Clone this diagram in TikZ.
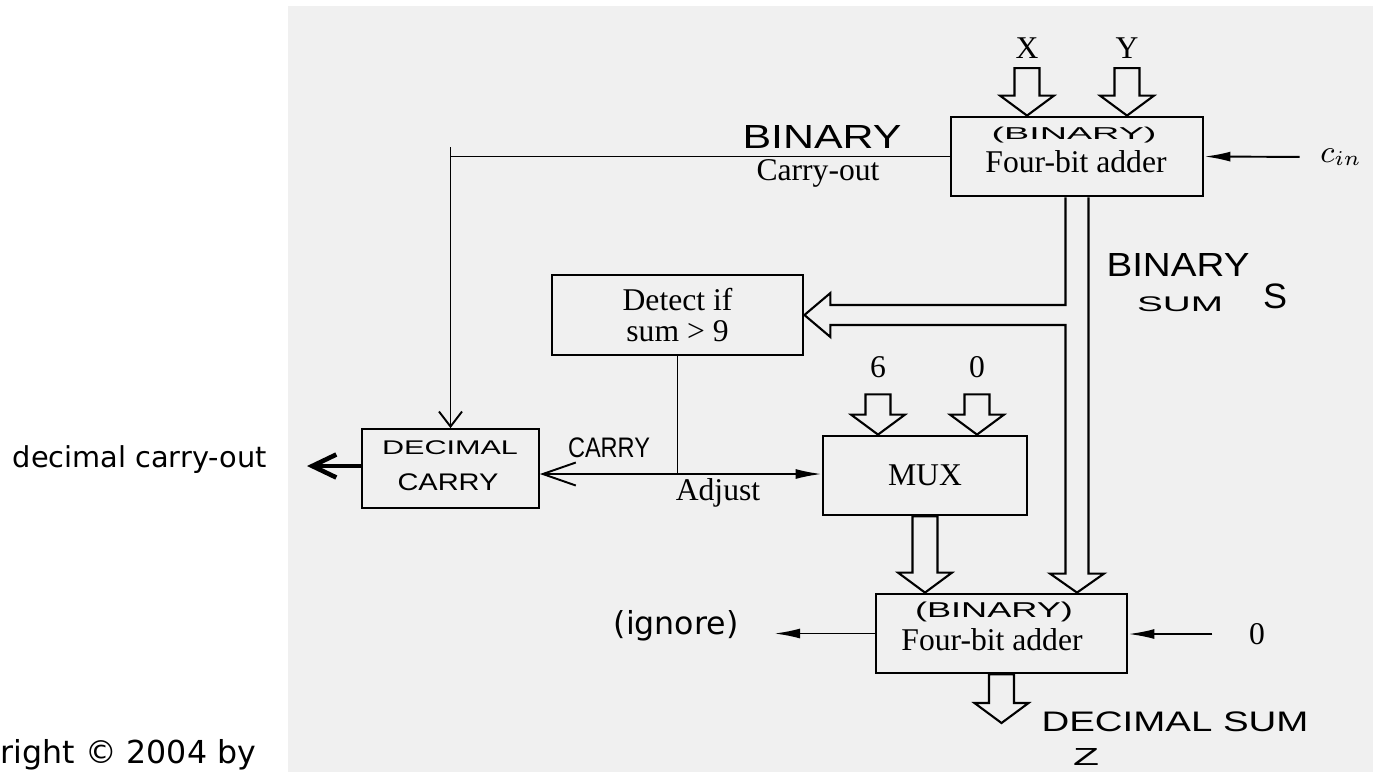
\documentclass[tikz,border=0pt]{standalone}
\usepackage{fontspec}
\setmainfont{Liberation Serif}
\newfontfamily\slidefont{DejaVu Sans}
\newfontfamily\handfont{Liberation Sans}
\usetikzlibrary{arrows.meta,positioning,calc}

% handwritten labels: width, total height, text
\newcommand\hw[3]{\resizebox*{#1}{#2}{\handfont #3}}
% hollow bus arrow pointing down: shaft top, tip
\newcommand\busdown[2]{%
 \draw[busline] let \p1=(#1), \p2=(#2) in
 (\x1-1.25mm,\y1) -- (\x1-1.25mm,\y2+2mm) -- (\x1-2.7mm,\y2+2mm) -- (\x1,\y2)
 -- (\x1+2.7mm,\y2+2mm) -- (\x1+1.25mm,\y2+2mm) -- (\x1+1.25mm,\y1) -- cycle;}

\tikzset{
 blk/.style={draw,line width=0.8pt,inner sep=0pt,align=center,font=\fontsize{9}{8.6}\selectfont},
 handblk/.style={draw,line width=0.5pt,inner sep=0pt},
 txt/.style={inner sep=0pt,font=\fontsize{9}{10}\selectfont},
 slide/.style={inner sep=0pt,font=\slidefont\fontsize{#1}{11}\selectfont},
 hand/.style={inner sep=0pt},
 wire/.style={line width=0.55pt},
 busline/.style={line width=0.6pt,line join=miter},
 barb/.style={-{Straight Barb[length=#1,width=2.3mm]}},
 scan/.style={fill=black!6}
}

\begin{document}
\begin{tikzpicture}[x=0.1mm,y=-0.1mm,>={Latex[length=2.6mm,width=1mm]}]
\useasboundingbox (0,0) rectangle (1373,772);
\fill[white] (0,0) rectangle (1373,772);
\fill[scan] (288,6) rectangle (1373,772);

% blocks
\node[blk,minimum width=25.2mm,minimum height=7.9mm] (addA) at (1077,156.5) {};
\node[txt] (addAname) at (1076,162) {Four-bit adder};
\node[hand] (addAbin) at (1074,135) {\hw{16.5mm}{1.6mm}{(BINARY)}};
\node[blk,minimum width=25.1mm,minimum height=8mm] (detect) at (677.5,315) {Detect if\\sum > 9};
\node[blk,minimum width=20.4mm,minimum height=7.9mm] (mux) at (925,475.5) {MUX};
\node[blk,minimum width=25.1mm,minimum height=7.9mm] (addB) at (1001.5,633.5) {};
\node[txt] (addBname) at (992,640) {Four-bit adder};
\node[hand] (addBbin) at (994,612) {\hw{15.8mm}{2mm}{(BINARY)}};
\node[handblk,minimum width=17.7mm,minimum height=7.9mm] (dec) at (450.5,468.5) {};
\node[hand] (decA) at (450,448) {\hw{13.6mm}{1.4mm}{DECIMAL}};
\node[hand] (decB) at (448,482) {\hw{10.1mm}{1.7mm}{CARRY}};

% inputs and labels
\node[txt] (lblX) at (1027,48) {X};
\node[txt] (lblY) at (1127,48) {Y};
\node[txt] (lblsix) at (878,367) {6};
\node[txt] (lblnil) at (977,367) {0};
\node[txt] (cin) at (1341,157) {$c_{in}$};
\node[txt] (zeroB) at (1257,634) {0};
\node[txt] (coutlbl) at (818,173) {Carry-out};
\node[txt] (adjlbl) at (718,493) {Adjust};
\node[hand] (coutbin) at (822,137) {\hw{15.9mm}{2.3mm}{BINARY}};
\node[hand] (adjcarry) at (609,448) {\hw{8.2mm}{2mm}{CARRY}};
\node[hand] (sumbin) at (1178,265) {\hw{14.3mm}{2.3mm}{BINARY}};
\node[hand] (sumsum) at (1180,304) {\hw{8.6mm}{1.5mm}{SUM}};
\node[hand] (sumS) at (1275,296) {\hw{2.4mm}{2.5mm}{S}};
\node[hand] (decsum) at (1175,722) {\hw{26.7mm}{2mm}{DECIMAL SUM}};
\node[hand] (decZ) at (1086,757) {\hw{2.6mm}{1.7mm}{Z}};

% slide text
\node[slide=8.2,anchor=west] (dcout) at (12,460) {decimal carry-out};
\node[slide=9,anchor=west] (ignore) at (613,626) {(ignore)};
\node[slide=9,anchor=west] (copyr) at (0,755) {right © 2004 by};

% carry-out of the first adder
\draw[wire,barb=1.5mm] (addA.west) -| (dec.north);
\draw[wire] (addA.west -| dec.north) -- ++(0,-10);
\draw[wire,->] (cin.west) [shorten <=2mm] -- (addA.east);

% adjust
\coordinate (adj) at (detect.south |- 0,474);
\draw[wire] (detect.south) -- (adj);
\draw[wire,->] (adj) -- (adj -| mux.west);
\draw[wire,barb=3.3mm] (adj) -- (adj -| dec.east);
\coordinate (dcend) at (307,466);
\draw[line width=1.3pt,barb=2.4mm] (dec.west |- dcend) -- (dcend);

% second adder
\draw[wire,->] (zeroB.west) [shorten <=3.6mm] -- (addB.east |- zeroB.west);
\draw[wire,->] (addB.west) [shorten >=3.5mm] -- (addB.west -| ignore.east);

% buses
\busdown{[yshift=-0.9mm]lblX.south}{lblX |- addA.north}
\busdown{[yshift=-0.9mm]lblY.south}{lblY |- addA.north}
\busdown{[yshift=-1.6mm]lblsix.south}{lblsix.south |- mux.north}
\busdown{[yshift=-1.6mm]lblnil.south}{lblnil.south |- mux.north}
\busdown{mux.south}{mux.south |- addB.north}
\coordinate (zout) at (1001.5,723);
\busdown{addB.south}{zout}
\draw[busline] let \p1=(addA.south), \p2=(detect.east), \p3=(addB.north) in
 (\x1-1.15mm,\y1) -- (\x1-1.15mm,\y2+1mm) -- (\x2+2.6mm,\y2+1mm) -- (\x2+2.6mm,\y2+2.2mm)
 -- (\x2,\y2) -- (\x2+2.6mm,\y2-2.2mm) -- (\x2+2.6mm,\y2-1mm) -- (\x1-1.15mm,\y2-1mm)
 -- (\x1-1.15mm,\y3+1.9mm) -- (\x1-2.7mm,\y3+1.9mm) -- (\x1,\y3) -- (\x1+2.7mm,\y3+1.9mm)
 -- (\x1+1.15mm,\y3+1.9mm) -- (\x1+1.15mm,\y1);
\end{tikzpicture}
\end{document}
